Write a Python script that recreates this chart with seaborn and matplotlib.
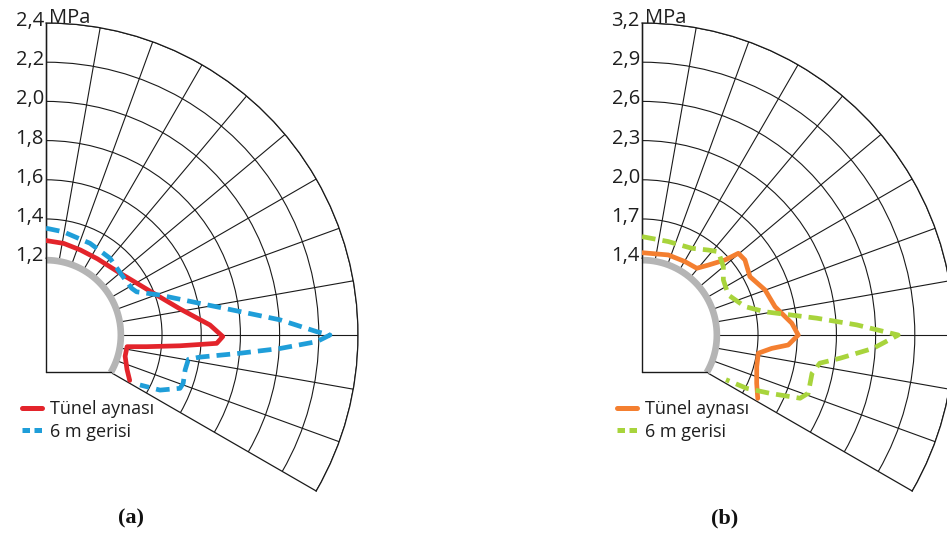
import numpy as np
import pandas as pd
import matplotlib
matplotlib.use("Agg")
import matplotlib.pyplot as plt
import seaborn as sns

# ------------------------------------------------------------------ data
series_names = ["Tünel aynası", "6 m gerisi"]
unit_label = "MPa"
panel_labels = ["(a)", "(b)"]

# panel (a): angle (deg, 0 = springline, 90 = crown) and stress (MPa)
a_face_deg = [90, 79, 68, 56, 40, 23, 11, 3.5, -0.5, -2.8, -4.6, -6.6, -8.2,
              -15, -23, -28.5]
a_face_mpa = [1.29, 1.284, 1.276, 1.277, 1.30, 1.383, 1.505, 1.646, 1.71, 1.68,
              1.494, 1.326, 1.226, 1.226, 1.257, 1.294]
a_back_deg = [90, 80.5, 64.4, 50.2, 38.4, 28.6, 25.5, 19.3, 11.6, 6.9, 3.7,
              0.7, 0, -1.4, -3.3, -5.4, -8.2, -9.7, -14.1, -19.4, -21.7,
              -25.8, -28]
a_back_mpa = [1.353, 1.342, 1.327, 1.318, 1.301, 1.306, 1.32, 1.424, 1.61,
              1.805, 2.005, 2.19, 2.257, 2.19, 2.004, 1.80, 1.60, 1.545,
              1.54, 1.55, 1.544, 1.454, 1.351]
a_ticks = [1.2, 1.4, 1.6, 1.8, 2.0, 2.2, 2.4]
a_tick_labels = ["1,2", "1,4", "1,6", "1,8", "2,0", "2,2", "2,4"]
a_tunnel_mpa = 1.19

# panel (b)
b_face_deg = [90, 71.8, 59.6, 50.6, 46.5, 42.1, 40.3, 36.1, 28.4, 20.1, 12.0,
              4.5, 0, -3.9, -5.9, -8.9, -15.4, -22.8, -28.7]
b_face_mpa = [1.442, 1.457, 1.463, 1.473, 1.55, 1.669, 1.779, 1.787, 1.751,
              1.815, 1.853, 1.962, 2.008, 1.934, 1.81, 1.713, 1.723, 1.764,
              1.822]
b_back_deg = [90, 74.3, 60.2, 52, 47.5, 40, 34.1, 24.9, 15.4, 10.7, 5.5, 2.7,
              0, -3.3, -6.7, -9, -12.7, -19.3, -21.8, -24.5, -27, -28]
b_back_mpa = [1.565, 1.555, 1.577, 1.637, 1.677, 1.625, 1.564, 1.54, 1.63,
              1.77, 2.155, 2.457, 2.773, 2.585, 2.338, 2.19, 2.146, 2.16,
              2.115, 1.889, 1.711, 1.54]
b_ticks = [1.4, 1.7, 2.0, 2.3, 2.6, 2.9, 3.2]
b_tick_labels = ["1,4", "1,7", "2,0", "2,3", "2,6", "2,9", "3,2"]
b_tunnel_mpa = 1.385

a_colors = ["#e3242b", "#1f9ed9"]
b_colors = ["#f47f30", "#a8d43c"]

# ------------------------------------------------------------------ style
sns.set_style("white")
plt.rcParams["font.family"] = ["Open Sans", "DejaVu Sans"]

W, H = 947, 534
fig = plt.figure(figsize=(W / 100, H / 100), dpi=100)

THETA_MIN, THETA_MAX = -30, 90
GRID_COLOR = "#1a1a1a"
TEXT_COLOR = "#1e1e1e"


def draw_panel(rect, face_deg, face_mpa, back_deg, back_mpa, ticks, labels,
               tunnel_mpa, colors, legend_xy):
    ax = fig.add_axes(rect, projection="polar")
    df = pd.DataFrame({
        "theta": np.deg2rad(np.r_[face_deg, back_deg]),
        "mpa": np.r_[face_mpa, back_mpa],
        "series": [series_names[0]] * len(face_deg) + [series_names[1]] * len(back_deg),
    })
    sns.lineplot(data=df, x="theta", y="mpa", hue="series", style="series",
                 palette=dict(zip(series_names, colors)),
                 dashes={series_names[0]: "", series_names[1]: (2.9, 1.5)},
                 sort=False, estimator=None, linewidth=3.4, legend=False,
                 ax=ax, zorder=4)
    data_lines = list(ax.lines)

    step = ticks[1] - ticks[0]
    r0 = ticks[0] - 1.96 * step
    ax.set_thetamin(THETA_MIN)
    ax.set_thetamax(THETA_MAX)
    ax.set_rlim(ticks[0], ticks[-1])
    ax.set_rorigin(r0)
    ax.set_yticks(ticks[1:])
    ax.set_xticks(np.deg2rad(np.arange(THETA_MIN + 10, THETA_MAX, 10)))
    ax.set_xticklabels([])
    ax.set_yticklabels([])
    ax.tick_params(length=0)
    ax.set_xlabel("")
    ax.set_ylabel("")
    ax.grid(True, color=GRID_COLOR, linewidth=0.8)
    ax.set_facecolor("white")
    for key in ("polar", "start", "end"):
        ax.spines[key].set_color(GRID_COLOR)
        ax.spines[key].set_linewidth(0.9)
    ax.spines["inner"].set_visible(False)

    # tunnel lining (grey arc), crown axis and invert line
    t_arc = np.deg2rad(np.linspace(THETA_MAX, THETA_MIN, 241))
    ax.plot(t_arc, np.full_like(t_arc, tunnel_mpa), color="#b5b5b5", lw=4.8,
            solid_capstyle="butt", clip_on=False, zorder=3)
    r_floor = r0 + (tunnel_mpa - r0) * np.sin(np.deg2rad(-THETA_MIN))
    ax.plot([np.pi / 2, -np.pi / 2], [ticks[-1], r_floor], color=GRID_COLOR,
            lw=1.0, clip_on=False, zorder=3)
    ax.plot([-np.pi / 2, np.deg2rad(THETA_MIN)], [r_floor, tunnel_mpa],
            color=GRID_COLOR, lw=1.0, clip_on=False, zorder=3)

    # radial value labels on the crown axis
    for v, lab in zip(ticks, labels):
        ax.annotate(lab, xy=(np.pi / 2, v), xytext=(-1.5, 1.5),
                    textcoords="offset points", ha="right", va="center",
                    fontsize=14.5, color=TEXT_COLOR, annotation_clip=False)
    ax.annotate(unit_label, xy=(np.pi / 2, ticks[-1]), xytext=(2.5, 3.5),
                textcoords="offset points", ha="left", va="center",
                fontsize=14.5, color=TEXT_COLOR, annotation_clip=False)

    leg = ax.legend(handles=data_lines, labels=series_names, loc="upper left",
                    bbox_to_anchor=legend_xy, bbox_transform=fig.transFigure,
                    frameon=False, fontsize=13, handlelength=1.1,
                    handletextpad=0.45, labelspacing=0.25, borderpad=0,
                    borderaxespad=0)
    for i, ln in enumerate(leg.get_lines()):
        ln.set_linewidth(3.6)
        if i == 1:
            ln.set_dashes((1.5, 0.9))
    for t in leg.get_texts():
        t.set_color(TEXT_COLOR)
    return ax


side = 468
# panel (a): pole at (46, 335) px, outer radius 312 px
ax_a = draw_panel([(46 - 78) / W, (H - 491) / H, side / W, side / H],
                  a_face_deg, a_face_mpa, a_back_deg, a_back_mpa,
                  a_ticks, a_tick_labels, a_tunnel_mpa, a_colors,
                  (22 / W, 1 - 400 / H))
# panel (b): pole at (642, 335) px
ax_b = draw_panel([(642 - 78) / W, (H - 491) / H, side / W, side / H],
                  b_face_deg, b_face_mpa, b_back_deg, b_back_mpa,
                  b_ticks, b_tick_labels, b_tunnel_mpa, b_colors,
                  (617 / W, 1 - 400 / H))

for lab, x in zip(panel_labels, [131, 725]):
    fig.text(x / W, 1 - 518 / H, lab, ha="center", va="center",
             fontsize=16, fontweight="bold", family="Liberation Serif",
             color="#111111")

fig.savefig("out.png", dpi=100, facecolor="white")
